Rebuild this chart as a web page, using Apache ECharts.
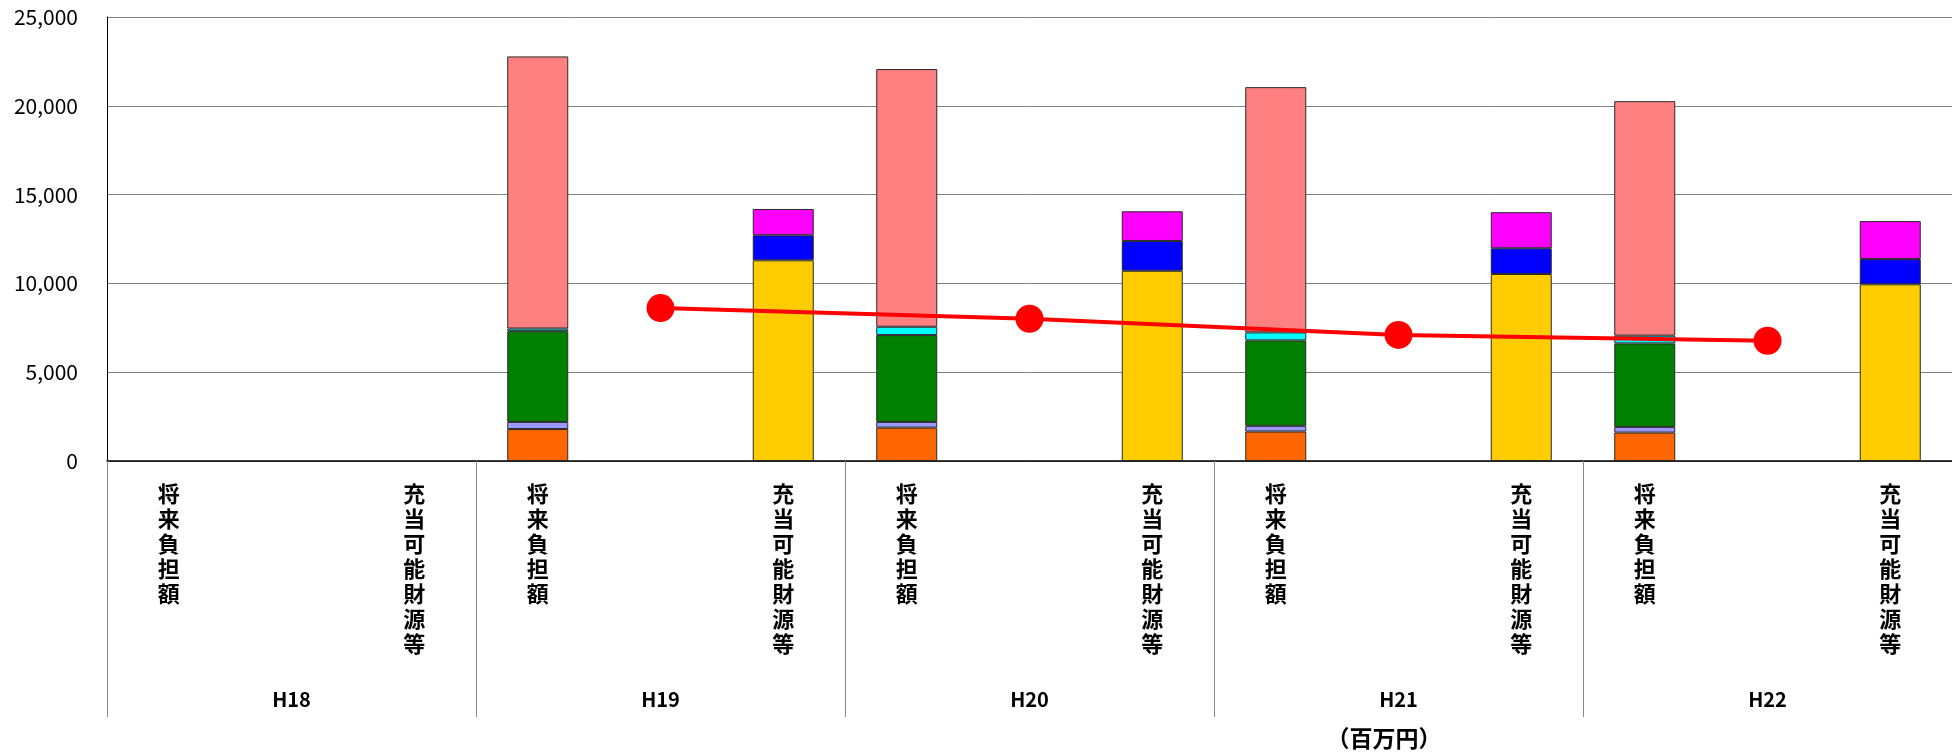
<!DOCTYPE html>
<html>
<head>
<meta charset="utf-8">
<script src="https://cdn.jsdelivr.net/npm/echarts@6/dist/echarts.min.js"></script>
<style>
  html, body { margin: 0; padding: 0; background: #fff; }
  #chart { width: 1952px; height: 753px; }
</style>
</head>
<body>
<div id="chart"></div>
<script>
// 年度と区分
var years = ['H18', 'H19', 'H20', 'H21', 'H22'];
var kinds = ['将来負担額', '充当可能財源等'];

// 将来負担額の内訳（百万円）
var futOrange = [null, 1800, 1880, 1660, 1600];
var futLavender = [null, 400, 320, 320, 320];
var futGreen = [null, 5110, 4890, 4810, 4700];
var futCyan = [null, 150, 470, 450, 440];
var futSalmon = [null, 15320, 14510, 13810, 13200];

// 充当可能財源等の内訳（百万円）
var resYellow = [null, 11300, 10710, 10530, 9950];
var resBlue = [null, 1410, 1680, 1450, 1420];
var resMagenta = [null, 1480, 1670, 2030, 2140];

// 折れ線（将来負担額 − 充当可能財源等）
var netLine = [null, 8610, 8010, 7100, 6770];

var yTicks = { min: 0, max: 25000, interval: 5000 };

// 10 categories: each year has 将来負担額 / 充当可能財源等
var categories = [];
years.forEach(function () {
  kinds.forEach(function (k) { categories.push(k); });
});

// place a per-year array on the 将来 (slot 0) or 充当 (slot 1) category
function spread(arr, slot) {
  var out = [];
  arr.forEach(function (v) {
    if (slot === 0) { out.push(v == null ? '-' : v); out.push('-'); }
    else { out.push('-'); out.push(v == null ? '-' : v); }
  });
  return out;
}

var jpFont = '"Noto Sans CJK JP", sans-serif';
var border = { borderColor: '#2a2a2a', borderWidth: 1 };

function barSeries(name, stack, data, color) {
  return {
    name: name,
    type: 'bar',
    stack: stack,
    data: data,
    barWidth: 61,
    barGap: '0%',
    itemStyle: Object.assign({ color: color }, border),
    xAxisIndex: 0,
    yAxisIndex: 0
  };
}

var myChart = echarts.init(document.getElementById('chart'));
myChart.setOption({
  animation: false,
  grid: { left: 107, right: 0, top: 17, bottom: 292 },
  xAxis: [
    {
      type: 'category',
      data: categories,
      position: 'bottom',
      axisLine: { show: true, lineStyle: { color: '#000', width: 1.5 } },
      axisTick: { show: false },
      axisLabel: {
        interval: 0,
        margin: 20,
        formatter: function (v, i) {
          var tag = i % 2 ? 'r' : 'l';
          return v.split('').map(function (c) { return '{' + tag + '|' + c + '}'; }).join('\n');
        },
        rich: {
          l: { fontFamily: jpFont, fontWeight: 'bold', fontSize: 22, lineHeight: 25, color: '#000', padding: [0, 61, 0, 0] },
          r: { fontFamily: jpFont, fontWeight: 'bold', fontSize: 22, lineHeight: 25, color: '#000', padding: [0, 0, 0, 61] }
        }
      }
    },
    {
      type: 'category',
      data: years,
      position: 'bottom',
      axisLine: { show: false },
      axisTick: { show: true, interval: 0, length: 256, lineStyle: { color: '#888' } },
      axisLabel: {
        interval: 0,
        margin: 228,
        fontFamily: jpFont,
        fontWeight: 'bold',
        fontSize: 20,
        color: '#000'
      },
      splitLine: { show: false }
    }
  ],
  yAxis: {
    type: 'value',
    min: yTicks.min,
    max: yTicks.max,
    interval: yTicks.interval,
    axisLine: { show: true, lineStyle: { color: '#000' } },
    axisTick: { show: false },
    splitLine: { show: true, lineStyle: { color: '#808080', width: 1 } },
    axisLabel: {
      margin: 29,
      fontFamily: jpFont,
      fontSize: 21,
      color: '#000',
      formatter: function (v) { return v.toLocaleString('en-US'); }
    }
  },
  graphic: [
    {
      type: 'text',
      x: 1384,
      y: 738,
      style: {
        text: '（百万円）',
        fontFamily: jpFont,
        fontWeight: 'bold',
        fontSize: 23,
        fill: '#000',
        align: 'center',
        verticalAlign: 'middle'
      }
    }
  ],
  series: [
    barSeries('将来負担額1', 'a', spread(futOrange, 0), '#FF6600'),
    barSeries('将来負担額2', 'a', spread(futLavender, 0), '#9999FF'),
    barSeries('将来負担額3', 'a', spread(futGreen, 0), '#008000'),
    barSeries('将来負担額4', 'a', spread(futCyan, 0), '#00FFFF'),
    barSeries('将来負担額5', 'a', spread(futSalmon, 0), '#FF8080'),
    barSeries('充当可能財源等1', 'b', spread(resYellow, 1), '#FFCC00'),
    barSeries('充当可能財源等2', 'b', spread(resBlue, 1), '#0000FF'),
    barSeries('充当可能財源等3', 'b', spread(resMagenta, 1), '#FF00FF'),
    {
      name: '差引',
      type: 'line',
      xAxisIndex: 1,
      yAxisIndex: 0,
      data: netLine,
      symbol: 'circle',
      symbolSize: 28,
      lineStyle: { color: '#FF0000', width: 4 },
      itemStyle: { color: '#FF0000' },
      z: 5
    }
  ]
});
</script>
</body>
</html>
